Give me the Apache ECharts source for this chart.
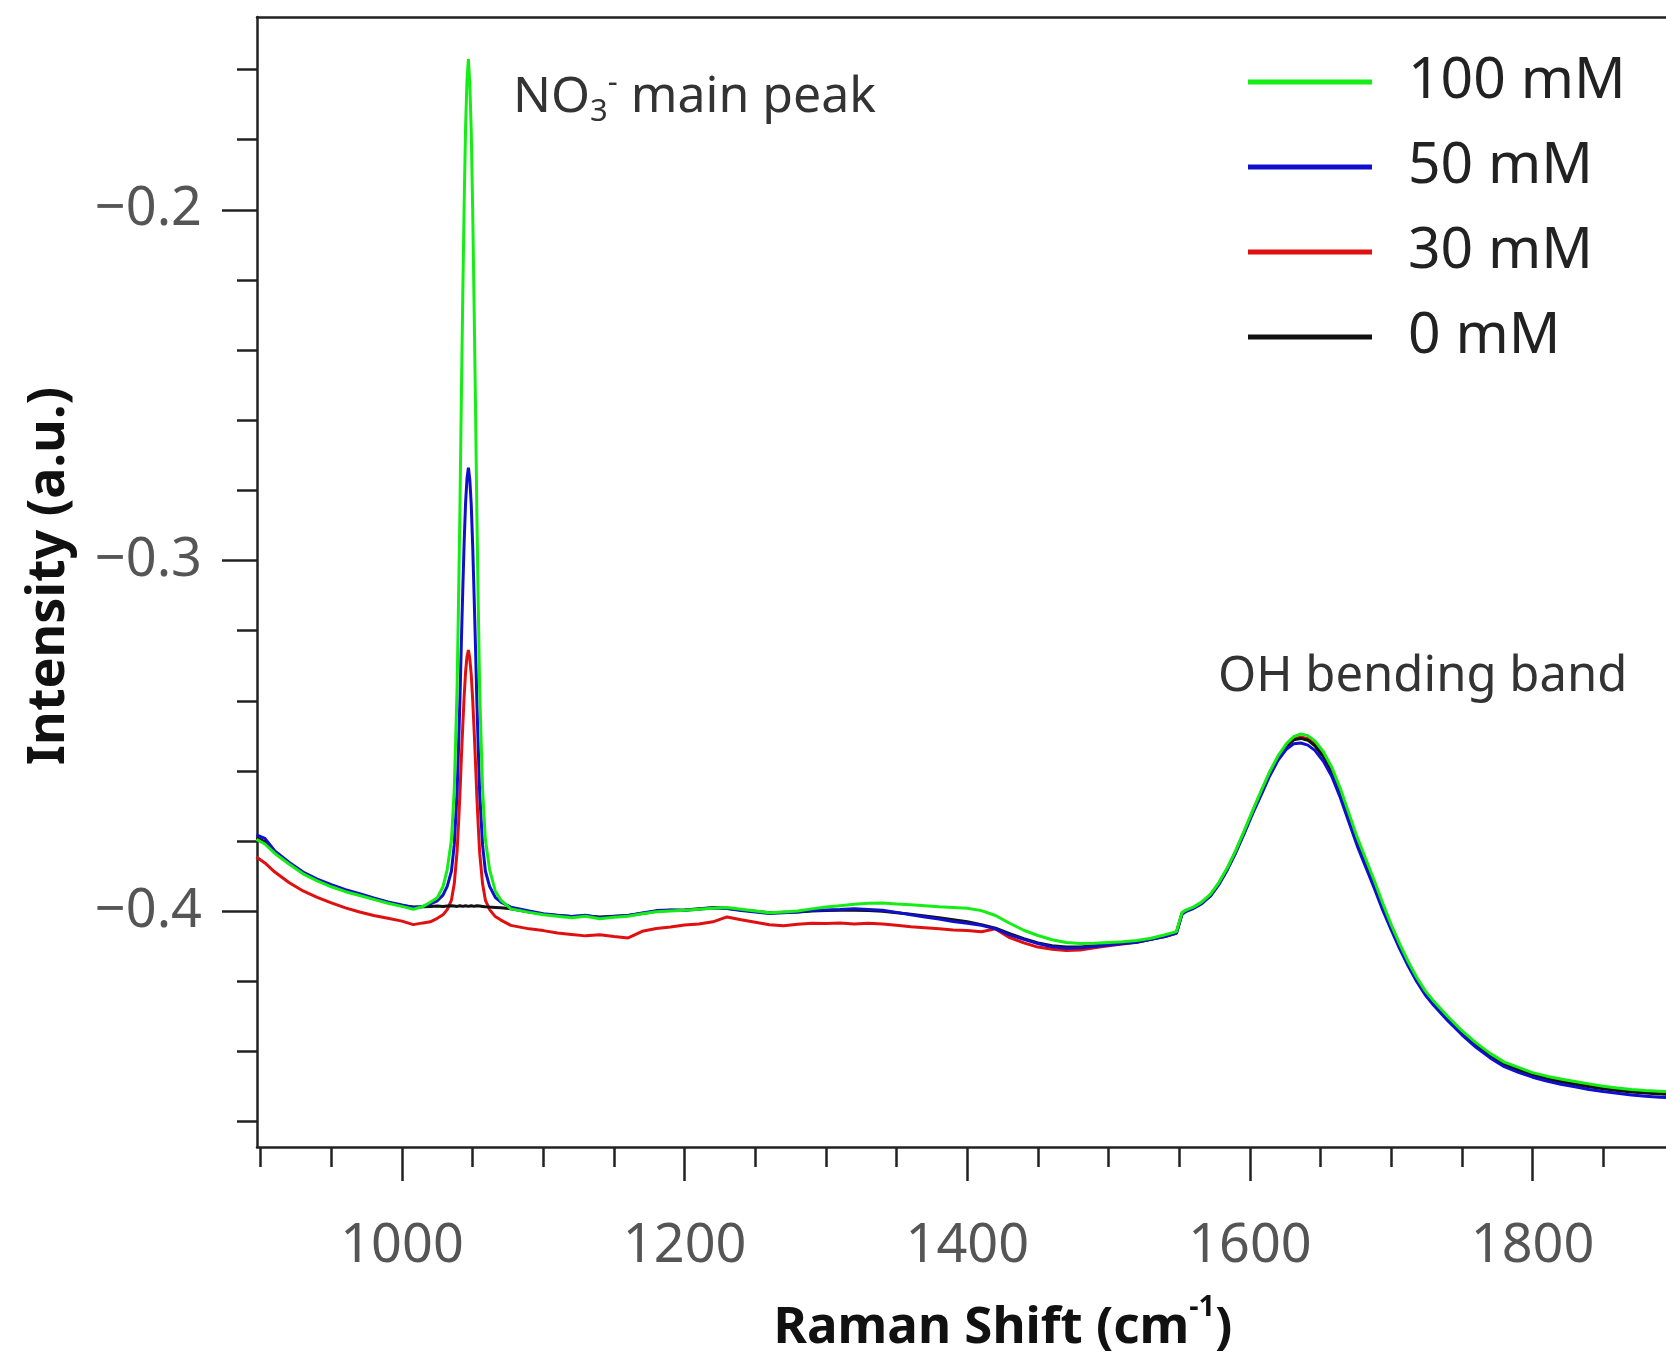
<!DOCTYPE html>
<html><head><meta charset="utf-8">
<script src="https://cdn.jsdelivr.net/npm/echarts@6/dist/echarts.min.js"></script>
<style>html,body{margin:0;padding:0;background:#fff;} #c{width:1666px;height:1357px;}</style>
</head><body><div id="c"></div>
<script>
// Raman shift (cm^-1)
const shift = [
  897, 903, 910, 920, 930, 940, 950, 960, 970, 980,
  990, 1000, 1008, 1015, 1020, 1025, 1029, 1032, 1035, 1037,
  1039, 1040, 1041, 1042, 1043, 1044, 1045, 1046, 1047, 1048,
  1049, 1050, 1051, 1052, 1053, 1054, 1055, 1057, 1059, 1062,
  1066, 1070, 1077, 1090, 1100, 1110, 1120, 1130, 1140, 1150,
  1160, 1170, 1180, 1190, 1200, 1210, 1220, 1230, 1240, 1250,
  1260, 1270, 1280, 1290, 1300, 1310, 1320, 1330, 1340, 1350,
  1360, 1370, 1380, 1390, 1400, 1410, 1420, 1430, 1440, 1450,
  1460, 1470, 1480, 1490, 1500, 1510, 1520, 1530, 1540, 1548,
  1552, 1555, 1560, 1566, 1572, 1578, 1584, 1590, 1596, 1602,
  1608, 1614, 1620, 1626, 1631, 1636, 1641, 1646, 1652, 1658,
  1664, 1670, 1676, 1682, 1688, 1694, 1700, 1706, 1712, 1718,
  1724, 1730, 1740, 1750, 1760, 1770, 1780, 1790, 1800, 1810,
  1820, 1830, 1840, 1850, 1860, 1870, 1880, 1890, 1900, 1910
];
const y100mM = [
  -0.3795, -0.3808, -0.3835, -0.3865, -0.3893, -0.3913, -0.3930, -0.3944, -0.3955, -0.3966,
  -0.3977, -0.3986, -0.3994, -0.3986, -0.3974, -0.3961, -0.3930, -0.3881, -0.3796, -0.3651,
  -0.3361, -0.3119, -0.2853, -0.2538, -0.2248, -0.1981, -0.1764, -0.1630, -0.1570, -0.1640,
  -0.1775, -0.1995, -0.2265, -0.2555, -0.2870, -0.3135, -0.3375, -0.3651, -0.3796, -0.3881,
  -0.3942, -0.3968, -0.3993, -0.4003, -0.4010, -0.4014, -0.4018, -0.4014, -0.4021, -0.4017,
  -0.4014, -0.4007, -0.4001, -0.3999, -0.3997, -0.3994, -0.3991, -0.3989, -0.3994, -0.3999,
  -0.4004, -0.4002, -0.3999, -0.3993, -0.3988, -0.3984, -0.3980, -0.3977, -0.3976, -0.3979,
  -0.3981, -0.3984, -0.3987, -0.3989, -0.3991, -0.3998, -0.4012, -0.4034, -0.4054, -0.4069,
  -0.4081, -0.4089, -0.4092, -0.4091, -0.4089, -0.4087, -0.4083, -0.4077, -0.4067, -0.4058,
  -0.4003, -0.3996, -0.3988, -0.3973, -0.3952, -0.3918, -0.3876, -0.3826, -0.3770, -0.3712,
  -0.3656, -0.3602, -0.3556, -0.3521, -0.3502, -0.3494, -0.3499, -0.3514, -0.3545, -0.3590,
  -0.3650, -0.3720, -0.3790, -0.3851, -0.3912, -0.3977, -0.4038, -0.4093, -0.4143, -0.4188,
  -0.4226, -0.4256, -0.4300, -0.4340, -0.4375, -0.4405, -0.4430, -0.4445, -0.4460, -0.4470,
  -0.4478, -0.4485, -0.4492, -0.4499, -0.4504, -0.4508, -0.4511, -0.4513, -0.4515, -0.4516
];
const y50mM = [
  -0.3782, -0.3792, -0.3828, -0.3860, -0.3888, -0.3908, -0.3924, -0.3938, -0.3950, -0.3962,
  -0.3973, -0.3982, -0.3989, -0.3986, -0.3979, -0.3970, -0.3954, -0.3929, -0.3885, -0.3810,
  -0.3660, -0.3535, -0.3397, -0.3235, -0.3085, -0.2947, -0.2835, -0.2766, -0.2735, -0.2770,
  -0.2840, -0.2955, -0.3095, -0.3245, -0.3405, -0.3540, -0.3665, -0.3810, -0.3885, -0.3929,
  -0.3960, -0.3974, -0.3988, -0.3999, -0.4007, -0.4011, -0.4015, -0.4011, -0.4018, -0.4015,
  -0.4012, -0.4005, -0.3998, -0.3996, -0.3997, -0.3994, -0.3990, -0.3992, -0.3998, -0.4002,
  -0.4006, -0.4004, -0.4002, -0.3998, -0.3996, -0.3995, -0.3993, -0.3995, -0.3997, -0.4003,
  -0.4010, -0.4016, -0.4022, -0.4029, -0.4034, -0.4040, -0.4050, -0.4067, -0.4080, -0.4092,
  -0.4101, -0.4105, -0.4104, -0.4100, -0.4096, -0.4092, -0.4088, -0.4080, -0.4072, -0.4062,
  -0.4008, -0.4000, -0.3992, -0.3978, -0.3957, -0.3924, -0.3882, -0.3833, -0.3778, -0.3721,
  -0.3668, -0.3614, -0.3569, -0.3537, -0.3522, -0.3520, -0.3526, -0.3541, -0.3572, -0.3616,
  -0.3676, -0.3745, -0.3814, -0.3874, -0.3934, -0.3997, -0.4053, -0.4107, -0.4156, -0.4200,
  -0.4238, -0.4268, -0.4312, -0.4352, -0.4388, -0.4418, -0.4443, -0.4459, -0.4473, -0.4484,
  -0.4493, -0.4500, -0.4508, -0.4514, -0.4519, -0.4524, -0.4527, -0.4530, -0.4532, -0.4533
];
const y30mM = [
  -0.3845, -0.3862, -0.3888, -0.3918, -0.3942, -0.3960, -0.3976, -0.3990, -0.4002, -0.4012,
  -0.4020, -0.4028, -0.4038, -0.4033, -0.4030, -0.4020, -0.4010, -0.3995, -0.3968, -0.3921,
  -0.3828, -0.3751, -0.3666, -0.3565, -0.3472, -0.3387, -0.3317, -0.3274, -0.3255, -0.3280,
  -0.3325, -0.3395, -0.3480, -0.3575, -0.3675, -0.3760, -0.3835, -0.3921, -0.3968, -0.3995,
  -0.4015, -0.4025, -0.4040, -0.4050, -0.4055, -0.4062, -0.4066, -0.4070, -0.4067, -0.4072,
  -0.4076, -0.4057, -0.4049, -0.4045, -0.4039, -0.4036, -0.4030, -0.4016, -0.4024, -0.4031,
  -0.4038, -0.4041, -0.4037, -0.4034, -0.4035, -0.4033, -0.4036, -0.4034, -0.4036, -0.4040,
  -0.4044, -0.4047, -0.4050, -0.4053, -0.4055, -0.4058, -0.4050, -0.4075, -0.4090, -0.4102,
  -0.4108, -0.4112, -0.4110, -0.4104, -0.4098, -0.4093, -0.4088, -0.4080, -0.4072, -0.4063,
  -0.4006, -0.3999, -0.3990, -0.3975, -0.3954, -0.3921, -0.3879, -0.3830, -0.3774, -0.3716,
  -0.3660, -0.3606, -0.3561, -0.3527, -0.3509, -0.3503, -0.3508, -0.3523, -0.3553, -0.3598,
  -0.3658, -0.3728, -0.3798, -0.3859, -0.3920, -0.3985, -0.4045, -0.4099, -0.4149, -0.4193,
  -0.4231, -0.4261, -0.4305, -0.4345, -0.4380, -0.4410, -0.4435, -0.4450, -0.4464, -0.4474,
  -0.4482, -0.4489, -0.4496, -0.4502, -0.4507, -0.4511, -0.4514, -0.4516, -0.4518, -0.4519
];
const y0mM = [
  -0.3790, -0.3802, -0.3832, -0.3863, -0.3891, -0.3911, -0.3928, -0.3942, -0.3953, -0.3964,
  -0.3975, -0.3984, -0.3988, -0.3987, -0.3986, -0.3985, -0.3986, -0.3985, -0.3984, -0.3985,
  -0.3986, -0.3985, -0.3984, -0.3985, -0.3986, -0.3985, -0.3984, -0.3985, -0.3986, -0.3985,
  -0.3984, -0.3985, -0.3986, -0.3985, -0.3984, -0.3986, -0.3985, -0.3986, -0.3987, -0.3988,
  -0.3989, -0.3990, -0.3993, -0.4002, -0.4008, -0.4012, -0.4015, -0.4013, -0.4016, -0.4014,
  -0.4012, -0.4006, -0.4000, -0.3997, -0.3996, -0.3993, -0.3990, -0.3991, -0.3996, -0.4000,
  -0.4004, -0.4003, -0.4002, -0.3999, -0.3998, -0.3997, -0.3997, -0.3998, -0.4000, -0.4004,
  -0.4008, -0.4013, -0.4018, -0.4024, -0.4030, -0.4038, -0.4048, -0.4064, -0.4078, -0.4090,
  -0.4098, -0.4102, -0.4102, -0.4098, -0.4095, -0.4091, -0.4087, -0.4080, -0.4070, -0.4060,
  -0.4005, -0.3998, -0.3990, -0.3975, -0.3955, -0.3921, -0.3879, -0.3829, -0.3774, -0.3716,
  -0.3661, -0.3607, -0.3562, -0.3529, -0.3511, -0.3507, -0.3512, -0.3528, -0.3559, -0.3603,
  -0.3663, -0.3733, -0.3803, -0.3864, -0.3924, -0.3988, -0.4047, -0.4101, -0.4151, -0.4195,
  -0.4233, -0.4263, -0.4307, -0.4347, -0.4382, -0.4412, -0.4437, -0.4452, -0.4467, -0.4477,
  -0.4486, -0.4493, -0.4500, -0.4506, -0.4511, -0.4515, -0.4518, -0.4521, -0.4523, -0.4524
];
const seriesNames = ['100 mM', '50 mM', '30 mM', '0 mM'];
const seriesColors = ['#14ee14', '#1010cc', '#e01010', '#111111'];
const xMajorTicks = [1000, 1200, 1400, 1600, 1800];
const xMinorTicks = [900, 950, 1050, 1100, 1150, 1250, 1300, 1350, 1450, 1500, 1550, 1650, 1700, 1750, 1850, 1900];
const yMajorTicks = [-0.4, -0.3, -0.2];
const yMinorTicks = [-0.46, -0.44, -0.42, -0.38, -0.36, -0.34, -0.32, -0.28, -0.26, -0.24, -0.22, -0.18, -0.16];
const xRange = [897.4, 1910];
const yRange = [-0.4672, -0.145];

const FONT = '"Noto Sans", "Open Sans", sans-serif';
const axisColor = '#222';
const chart = echarts.init(document.getElementById('c'), null, {renderer: 'canvas'});

function mk(name, ys, color) {
  return {
    name, type: 'line', xAxisIndex: 0, yAxisIndex: 0,
    data: shift.map((x, i) => [x, ys[i]]),
    showSymbol: false, symbol: 'none', clip: true,
    lineStyle: {color, width: 3}, itemStyle: {color},
    emphasis: {disabled: true}
  };
}
const ySeries = {'100 mM': y100mM, '50 mM': y50mM, '30 mM': y30mM, '0 mM': y0mM};
const colorOf = n => seriesColors[seriesNames.indexOf(n)];
const drawOrder = ['30 mM', '0 mM', '50 mM', '100 mM'];

const xBase = {type: 'value', min: xRange[0], max: xRange[1], splitLine: {show: false}};
const yBase = {type: 'value', min: yRange[0], max: yRange[1], splitLine: {show: false}};
const tickLine = {color: axisColor, width: 2.5};

chart.setOption({
  animation: false,
  backgroundColor: '#fff',
  grid: {left: 257, top: 17, right: -22, bottom: 210, containLabel: false, outerBoundsMode: 'none'},
  xAxis: [
    Object.assign({}, xBase, {position: 'bottom',
      axisLine: {show: true, onZero: false, lineStyle: {color: axisColor, width: 2.5}},
      axisTick: {show: true, customValues: xMajorTicks, length: 34, lineStyle: tickLine},
      axisLabel: {show: true, customValues: xMajorTicks, margin: 73, fontSize: 54, color: '#555', fontFamily: FONT,
        formatter: v => String(v)}}),
    Object.assign({}, xBase, {position: 'bottom',
      axisLine: {show: false, onZero: false},
      axisTick: {show: true, customValues: xMinorTicks, length: 20, lineStyle: tickLine},
      axisLabel: {show: false}}),
    Object.assign({}, xBase, {position: 'top',
      axisLine: {show: true, onZero: false, lineStyle: {color: axisColor, width: 2.5}},
      axisTick: {show: false}, axisLabel: {show: false}})
  ],
  yAxis: [
    Object.assign({}, yBase, {position: 'left',
      axisLine: {show: true, onZero: false, lineStyle: {color: axisColor, width: 2.5}},
      axisTick: {show: true, customValues: yMajorTicks, length: 35, lineStyle: tickLine},
      axisLabel: {show: true, customValues: yMajorTicks, margin: 55, fontSize: 54, color: '#555', fontFamily: FONT,
        formatter: v => (v < 0 ? '\u2212' : '') + Math.abs(v).toFixed(1)}}),
    Object.assign({}, yBase, {position: 'left',
      axisLine: {show: false, onZero: false},
      axisTick: {show: true, customValues: yMinorTicks, length: 20, lineStyle: tickLine},
      axisLabel: {show: false}})
  ],
  legend: {
    orient: 'vertical', left: 1243, top: 47, itemWidth: 124, itemHeight: 5, itemGap: 25, icon: 'rect',
    data: seriesNames, selectedMode: false,
    textStyle: {fontSize: 57, color: '#222', fontFamily: FONT, lineHeight: 60, padding: [0, 0, 0, 31]}
  },
  series: drawOrder.map(n => mk(n, ySeries[n], colorOf(n))),
  graphic: [
    {type: 'text', x: 513, y: 98, silent: true, style: {
      text: '{a|NO}{b|3}{c|-}{a| main peak}', textVerticalAlign: 'middle', textAlign: 'left',
      rich: {
        a: {fontSize: 50, fontFamily: FONT, fill: '#333', color: '#333', lineHeight: 60},
        b: {fontSize: 31, fontFamily: FONT, fill: '#333', color: '#333', lineHeight: 30, verticalAlign: 'bottom'},
        c: {fontSize: 31, fontFamily: FONT, fill: '#333', color: '#333', lineHeight: 30, verticalAlign: 'top'}
      }}},
    {type: 'text', x: 1218, y: 677, silent: true, style: {
      text: 'OH bending band', font: '49px ' + FONT, fill: '#333', textVerticalAlign: 'middle', textAlign: 'left'}},
    {type: 'text', x: 49, y: 576, rotation: Math.PI / 2, silent: true, style: {
      text: 'Intensity (a.u.)', font: 'bold 52px ' + FONT, fill: '#111', textVerticalAlign: 'middle', textAlign: 'center'}},
    {type: 'text', x: 1003, y: 1328, silent: true, style: {
      text: '{t|Raman Shift (cm}{s|-1}{t|)}', textVerticalAlign: 'middle', textAlign: 'center',
      rich: {
        t: {fontSize: 51, fontWeight: 'bold', fontFamily: FONT, color: '#111', fill: '#111', lineHeight: 70},
        s: {fontSize: 29, fontWeight: 'bold', fontFamily: FONT, color: '#111', fill: '#111', lineHeight: 28, verticalAlign: 'top'}
      }}}
  ]
});
</script>
</body></html>
